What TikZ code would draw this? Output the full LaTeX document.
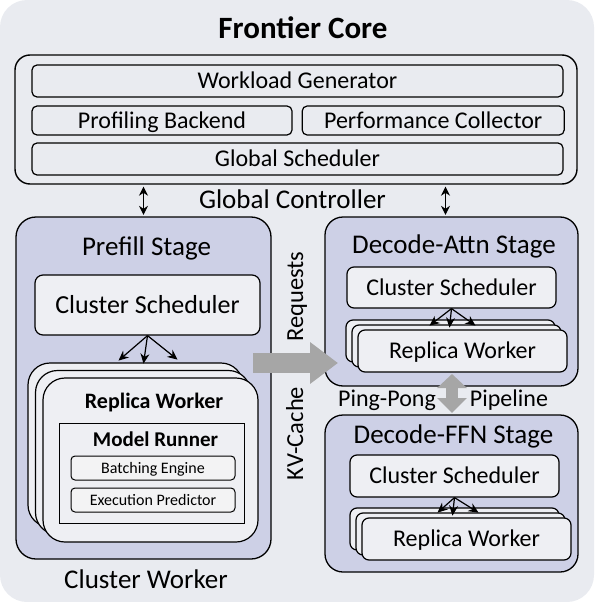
\documentclass[tikz,border=0pt]{standalone}
\usepackage{fontspec}
\setmainfont{Carlito}
\usetikzlibrary{arrows.meta,positioning}

\definecolor{bggray}{RGB}{233,235,240}
\definecolor{stagefill}{RGB}{205,208,230}
\definecolor{boxfill}{RGB}{238,239,243}
\definecolor{enginefill}{RGB}{243,243,244}
\definecolor{arrowgray}{RGB}{166,166,166}

\begin{document}
\begin{tikzpicture}[x=1pt, y=-1pt]

% Define styles
\tikzstyle{panel} = [draw, line width=1.2pt, rounded corners=5pt, fill=bggray, inner sep=0pt, text height=15.5pt, text depth=0pt, font=\fontsize{24}{28}\selectfont]
\tikzstyle{ctrlframe} = [draw, line width=1.4pt, rounded corners=15pt, inner sep=0pt]
\tikzstyle{stage} = [draw, line width=1.3pt, rounded corners=20pt, fill=stagefill, inner sep=0pt]
\tikzstyle{inner} = [draw, line width=1.2pt, rounded corners=7pt, fill=boxfill, inner sep=0pt, text height=15.5pt, text depth=0pt, font=\fontsize{24}{28}\selectfont]
\tikzstyle{worker} = [inner, rounded corners=22pt]
\tikzstyle{runner} = [draw, line width=1pt, fill=boxfill, inner sep=0pt]
\tikzstyle{engine} = [draw, line width=1pt, rounded corners=4pt, fill=enginefill, inner sep=0pt, minimum width=164pt, minimum height=24pt, text height=10.4pt, text depth=0pt, font=\fontsize{16}{19}\selectfont]
\tikzstyle{bigtitle} = [anchor=base, inner sep=0pt, font=\fontsize{31}{36}\selectfont\bfseries]
\tikzstyle{caption} = [anchor=base, inner sep=0pt, font=\fontsize{27}{32}\selectfont]
\tikzstyle{sidelabel} = [anchor=base, inner sep=0pt, font=\fontsize{24.5}{29}\selectfont]
\tikzstyle{boldlabel} = [anchor=base, inner sep=0pt, font=\fontsize{22}{26}\selectfont\bfseries]
\tikzstyle{dblarrow} = [line width=1.2pt, shorten <=2pt, shorten >=1.5pt, {Stealth[length=9pt,width=9pt]}-{Stealth[length=9pt,width=9pt]}]
\tikzstyle{fan} = [line width=1.2pt, -{Stealth[length=10pt,width=9pt]}]
\tikzstyle{bigarrow} = [draw=arrowgray, line width=20pt, -{Triangle[length=28pt,width=40pt]}]
\tikzstyle{pingpong} = [draw=arrowgray, line width=12pt, {Triangle[length=14pt,width=29pt]}-{Triangle[length=15pt,width=29pt]}]

% Background
\fill[bggray, rounded corners=27pt] (0,0) rectangle (594,602);
\useasboundingbox (0,0) rectangle (594,602);

% Frontier core
\node[bigtitle] (core) at (303,38) {Frontier Core};
\node[ctrlframe, minimum width=562pt, minimum height=129pt] (gc) at (296,119.5) {};
\node[panel, minimum width=531pt, minimum height=32pt] (wg) at (297.5,81) {Workload Generator};
\node[panel, minimum width=260pt, minimum height=29pt] (pb) at (162,120.5) {Profiling Backend};
\node[panel, minimum width=262pt, minimum height=29pt, right=9pt of pb] (pc) {Performance Collector};
\node[panel, minimum width=531pt, minimum height=32pt] (gs) at (297.5,159) {Global Scheduler};
\node[caption] (gclabel) at (292.5,208) {Global Controller};

% Prefill stage
\node[stage, minimum width=255pt, minimum height=342pt] (prefill) at (143.5,388) {};
\node[caption] (prefilltitle) at (146.5,255) {Prefill Stage};
\node[inner, minimum width=225pt, minimum height=60pt, rounded corners=8pt, text height=16.8pt, font=\fontsize{26}{30}\selectfont] (pcs) at (147.5,305) {Cluster Scheduler};
\foreach \i in {2,1,0}
  \node[worker, minimum width=215pt, minimum height=164pt] (pw\i) at (150.5-7.5*\i,460-7.5*\i) {};
\node[boldlabel] (rwtitle) at (154,408) {Replica Worker};
\node[runner, minimum width=185pt, minimum height=100pt] (mr) at (151.5,473) {};
\node[boldlabel, font=\fontsize{21}{25}\selectfont\bfseries] (mrtitle) at (155.5,446) {Model Runner};
\node[engine] (be) at (153,468) {Batching Engine};
\node[engine, below=7pt of be] (ep) {Execution Predictor};
\node[caption] (cw) at (146,588) {Cluster Worker};

% Decode-Attn stage
\node[stage, minimum width=253pt, minimum height=169pt, rounded corners=18pt] (attn) at (451.5,301.5) {};
\node[caption] (attntitle) at (454,253) {Decode-Attn Stage};
\node[inner, minimum width=209pt, minimum height=41pt] (acs) at (451.5,287.5) {Cluster Scheduler};
\foreach \i in {2,1}
  \node[inner, minimum width=209pt, minimum height=42pt] (aw\i) at (462.5-6*\i,351-5*\i) {};
\node[inner, minimum width=209pt, minimum height=42pt] (aw0) at (462.5,351) {Replica Worker};

% Decode-FFN stage
\node[stage, minimum width=253pt, minimum height=157pt, rounded corners=18pt] (ffn) at (451.5,493.5) {};
\node[caption] (ffntitle) at (453.5,443) {Decode-FFN Stage};
\node[inner, minimum width=209pt, minimum height=42pt] (fcs) at (454.5,476) {Cluster Scheduler};
\foreach \i in {2,1}
  \node[inner, minimum width=209pt, minimum height=42pt] (fw\i) at (466.5-6*\i,539-5*\i) {};
\node[inner, minimum width=209pt, minimum height=42pt] (fw0) at (466.5,539) {Replica Worker};

% Side labels
\node[sidelabel, rotate=90] (req) at (303,296.5) {Requests};
\node[sidelabel, rotate=90] (kv) at (303,433.5) {KV-Cache};
\node[sidelabel, font=\fontsize{24}{28}\selectfont] (ping) at (387,406) {Ping-Pong};
\node[sidelabel, font=\fontsize{24}{28}\selectfont] (pipe) at (509,406) {Pipeline};

% Arrows
\draw[dblarrow] (gc.south -| prefill.north) -- (prefill.north);
\draw[dblarrow] ([xshift=-6pt]attn.north |- gc.south) -- ([xshift=-6pt]attn.north);

\foreach \dx/\dy in {-29/25,-4/28,30/24}
  \draw[fan] (pcs.south) -- ++(\dx,\dy);
\foreach \dx/\dy in {-22/17,-2/19,24/17}
  \draw[fan] (acs.south) -- ++(\dx,\dy);
\foreach \dx/\dy in {-17/15,-2/18,24/15}
  \draw[fan] (fcs.south) -- ++(\dx,\dy);

\coordinate (kvfrom) at (253,363);
\coordinate (kvto) at (338,363);
\draw[bigarrow] (kvfrom) -- (kvto);

\coordinate (pptop) at (452,374);
\coordinate (ppbot) at (452,413);
\draw[pingpong] (pptop) -- (ppbot);

\end{tikzpicture}
\end{document}
